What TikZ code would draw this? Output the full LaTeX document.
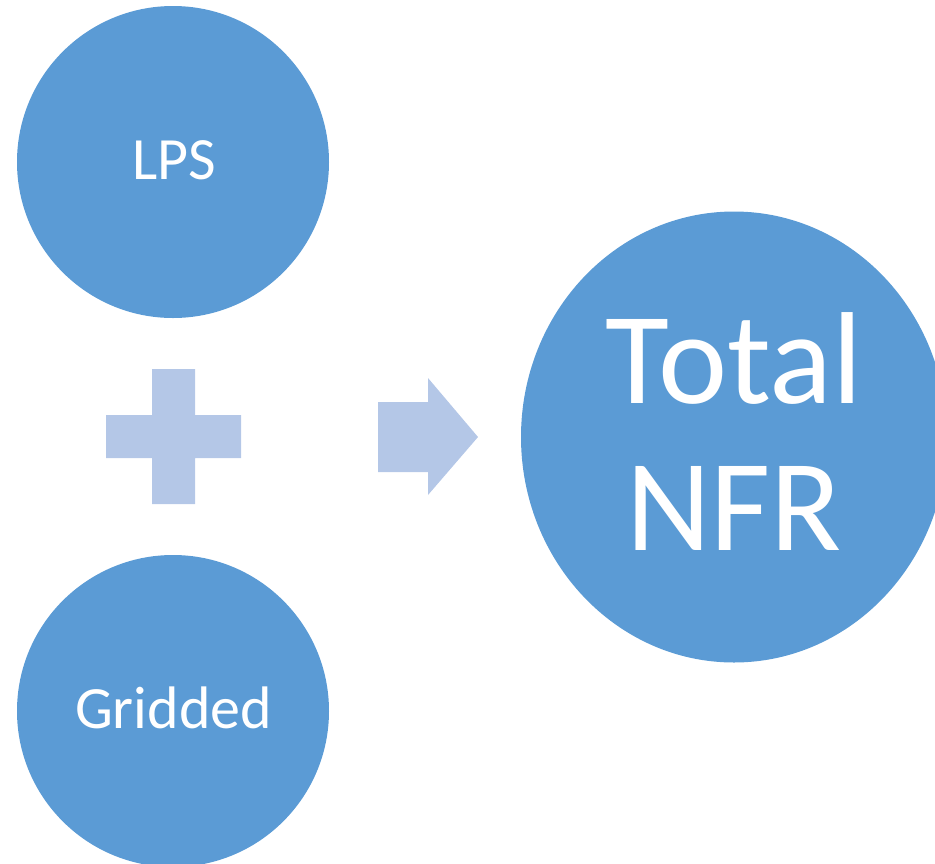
\documentclass[tikz,border=0pt]{standalone}
\usepackage{fontspec}
\setmainfont{Carlito}
\usetikzlibrary{shapes.geometric}
\definecolor{circblue}{HTML}{5B9BD5}
\definecolor{lightblue}{HTML}{B4C7E7}
\tikzset{
  bubble/.style={circle, fill=circblue, draw=none, minimum size=312pt, inner sep=0pt},
  bigbubble/.style={ellipse, fill=circblue, draw=none, minimum width=426pt, minimum height=451pt, inner sep=0pt},
  smalltxt/.style={text=white, font=\fontsize{60}{72}\selectfont, inner sep=0pt},
  bigtxt/.style={text=white, font=\fontsize{131}{147}\selectfont, align=center, inner sep=0pt},
  shapefill/.style={fill=lightblue, draw=none}
}
\begin{document}
\begin{tikzpicture}[x=1pt,y=-1pt]
\useasboundingbox (0,0) rectangle (935,863);
\clip (0,0) rectangle (935,863);
% circles
\node[bubble] (lps) at (173,162) {};
\node[bubble] (grid) at (173,711) {};
\node[bigbubble] (nfr) at (734,437) {};
% labels
\node[smalltxt] (lpstxt) at (174,160) {LPS};
\node[smalltxt] (gridtxt) at (173.5,707.5) {Gridded};
\node[bigtxt] (nfrtxt) at (734,432) {Total\\NFR};
% plus sign
\fill[shapefill] (152,369) -- (195,369) -- (195,415) -- (241,415) -- (241,458) -- (195,458) -- (195,504) -- (152,504) -- (152,458) -- (106,458) -- (106,415) -- (152,415) -- cycle;
% block arrow
\fill[shapefill] (378,402) -- (428,402) -- (428,378) -- (478,437) -- (428,495) -- (428,472) -- (378,472) -- cycle;
\end{tikzpicture}
\end{document}
